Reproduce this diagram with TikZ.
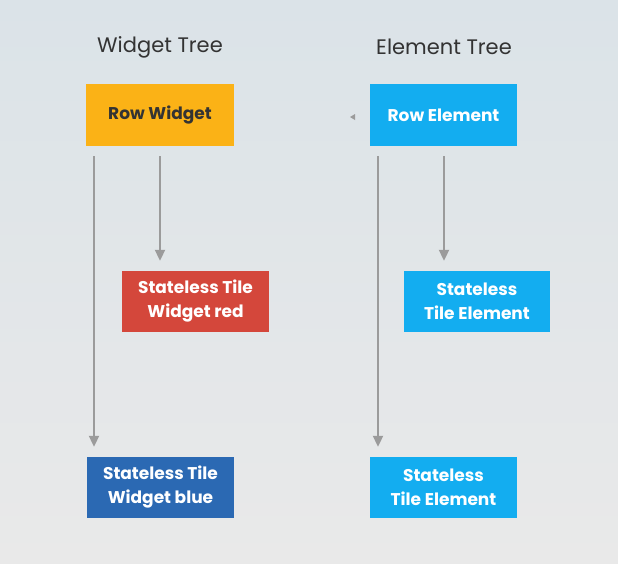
\documentclass[tikz,border=0pt]{standalone}
\usepackage{fontspec}
\setmainfont{Poppins}
\usetikzlibrary{arrows.meta}
\definecolor{bgtop}{RGB}{219,227,232}
\definecolor{bgbot}{RGB}{233,233,233}
\definecolor{rowgold}{RGB}{251,178,22}
\definecolor{elemblue}{RGB}{19,173,240}
\definecolor{tilered}{RGB}{212,71,59}
\definecolor{tileblue}{RGB}{43,105,179}
\definecolor{titlegray}{RGB}{51,51,51}
\definecolor{flowgray}{RGB}{155,155,155}
\tikzset{
	treebox/.style={minimum width=147pt, minimum height=61pt, inner sep=0pt,
		align=center, font=\fontsize{17}{24}\selectfont\bfseries, text=white},
	flow/.style={flowgray, line width=2pt, -{Triangle[width=10pt, length=11pt]}}
}
\begin{document}
\begin{tikzpicture}[x=1pt, y=-1pt]
		% Backdrop.
		\shade[top color=bgtop, bottom color=bgbot] (0, 0) rectangle (618, 563);
		\useasboundingbox (0, 0) rectangle (618, 563);
		% Column titles.
		\node[text=titlegray, font=\fontsize{21}{25}\selectfont] (widgetTitle) at (160, 47) {Widget Tree};
		\node[text=titlegray, font=\fontsize{21}{25}\selectfont] (elementTitle) at (444, 47) {Element Tree};
		% Widget tree.
		\node[treebox, fill=rowgold, text=titlegray, minimum width=148pt, minimum height=62pt] (rowWidget) at (160, 115) {Row Widget};
		\node[treebox, fill=tilered] (redWidget) at (195.5, 301.5) {Stateless Tile\\Widget red};
		\node[treebox, fill=tileblue] (blueWidget) at (160.5, 487.5) {Stateless Tile\\Widget blue};
		% Element tree.
		\node[treebox, fill=elemblue, minimum height=62pt] (rowElement) at (443.5, 115) {Row Element};
		\node[treebox, fill=elemblue, minimum width=146pt] (midElement) at (477, 301.5) {Stateless\\Tile Element};
		\node[treebox, fill=elemblue] (botElement) at (443.5, 487.5) {Stateless\\Tile Element};
		% Child links.
		\draw[flow] ([xshift=-66pt, yshift=-10pt]rowWidget.south) -- ([xshift=-66.5pt, yshift=10pt]blueWidget.north);
		\draw[flow] ([yshift=-10pt]rowWidget.south) -- ([xshift=-35.5pt, yshift=10pt]redWidget.north);
		\draw[flow] ([xshift=-65.5pt, yshift=-10pt]rowElement.south) -- ([xshift=-65.5pt, yshift=10pt]botElement.north);
		\draw[flow] ([xshift=0.5pt, yshift=-10pt]rowElement.south) -- ([xshift=-33pt, yshift=10pt]midElement.north);
		% Small pointer tip left of the row element.
		\fill[flowgray] (350, 117) -- (355, 114) -- (355, 120) -- cycle;
	\end{tikzpicture}
\end{document}
